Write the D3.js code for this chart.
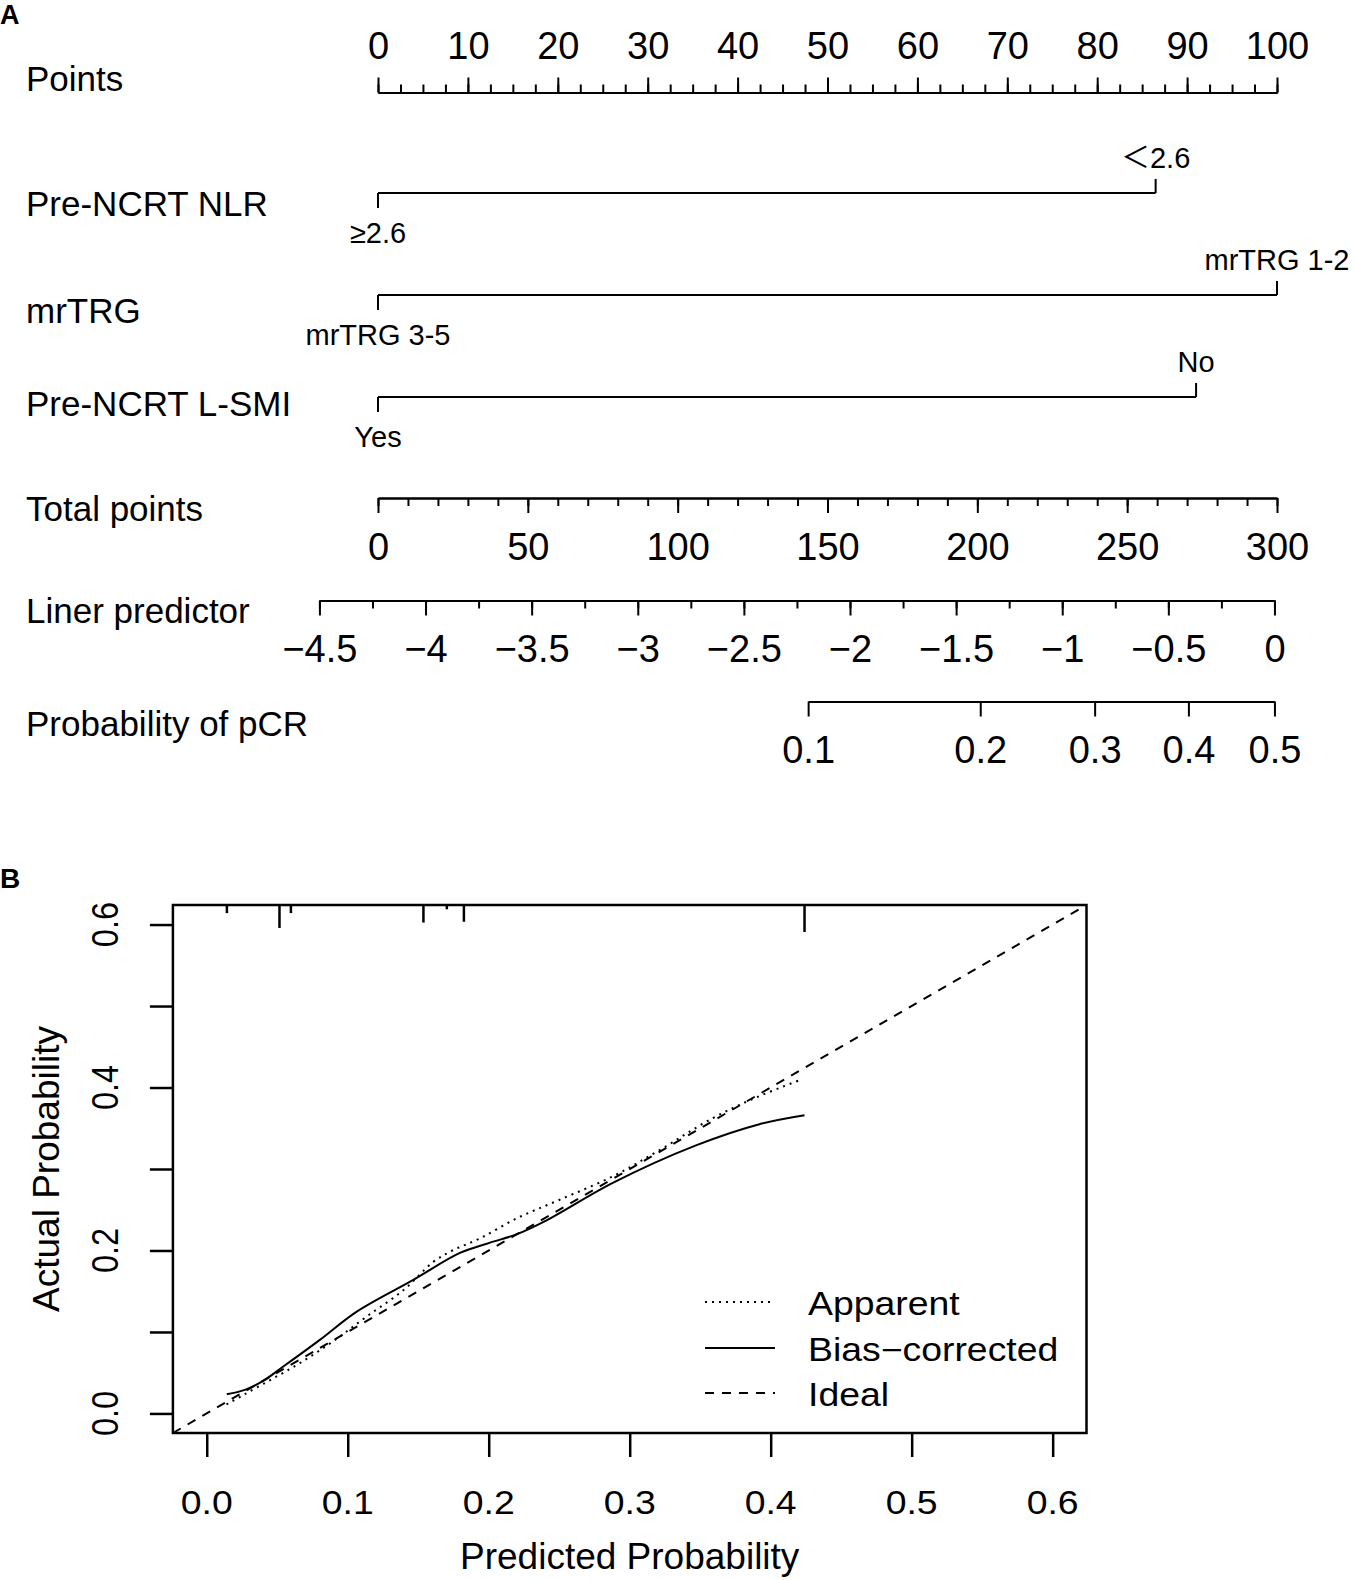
<!DOCTYPE html>
<html>
<head>
<meta charset="utf-8">
<title>Nomogram and calibration curve for pCR</title>
<script src="https://d3js.org/d3.v7.min.js"></script>
<style>
  body { margin: 0; background: #fff; }
  svg { display: block; font-family: "Liberation Sans", Arial, "Noto Sans CJK SC", sans-serif; }
</style>
</head>
<body>
<svg id="fig" width="1354" height="1580"></svg>
<script>
// ---------------- data : nomogram (A) ----------------
let pointTicks = [0, 10, 20, 30, 40, 50, 60, 70, 80, 90, 100];
let varNames = ["Pre-NCRT NLR", "mrTRG", "Pre-NCRT L-SMI"];
let levelLabels = [["≥2.6", "＜2.6"], ["mrTRG 3-5", "mrTRG 1-2"], ["Yes", "No"]];
let levelPoints = [[0, 86.5], [0, 100], [0, 91]];
let totalTicks = [0, 50, 100, 150, 200, 250, 300];
let lpTicks = [-4.5, -4, -3.5, -3, -2.5, -2, -1.5, -1, -0.5, 0];
let probTicks = [0.1, 0.2, 0.3, 0.4, 0.5];
// linear predictor = lpAtZero + lpPerPoint * total points
let lpAtZero = -4.224, lpPerPoint = 0.01412;

// ---------------- data : calibration (B) ----------------
let calTicks = [0, 0.1, 0.2, 0.3, 0.4, 0.5, 0.6];
let calLabels = ["0.0", "0.1", "0.2", "0.3", "0.4", "0.5", "0.6"];
let apparentPred = [0.014, 0.026, 0.045, 0.066, 0.09, 0.1135, 0.14, 0.1607, 0.175, 0.194, 0.22, 0.25, 0.288, 0.32, 0.359, 0.39, 0.422];
let apparentObs  = [0.011, 0.0227, 0.041, 0.0617, 0.089, 0.119, 0.152, 0.186, 0.2006, 0.215, 0.2396, 0.262, 0.291, 0.322, 0.3625, 0.388, 0.410];
let biasPred = [0.0142, 0.027, 0.04, 0.0543, 0.08, 0.1064, 0.1465, 0.1796, 0.2, 0.22, 0.241, 0.288, 0.347, 0.392, 0.424];
let biasObs  = [0.0235, 0.029, 0.040, 0.0576, 0.090, 0.125, 0.164, 0.197, 0.209, 0.22, 0.237, 0.283, 0.329, 0.355, 0.366];
let rugPred = [0.0143, 0.0516, 0.0597, 0.1537, 0.1703, 0.1824, 0.424];
let rugFreq = [3, 8.5, 3, 6.5, 1.6, 6.2, 10];
let legendNames = ["Apparent", "Bias\u2212corrected", "Ideal"];

const svg = d3.select("#fig");

// small helper: text with optional horizontal stretch and rotation
function addText(parent, x, y, txt, size, anchor, sx, rot) {
  return parent.append("text")
    .attr("transform", "translate(" + x + "," + y + ") scale(" + (sx || 1) + ",1)" + (rot ? " rotate(" + rot + ")" : ""))
    .attr("font-size", size)
    .attr("text-anchor", anchor || "start")
    .attr("fill", "#000")
    .text(txt);
}

//------------------ panel A : nomogram ------------------
let A = svg.append("g");
addText(A, 0, 24, "A", 27, "start").attr("font-weight", "bold");

let ptsX = d3.scaleLinear().domain([0, 100]).range([378, 1277]);
let totX = d3.scaleLinear().domain([0, 300]).range([378, 1277]);
let lpToTotal = function(lp) { return (lp - lpAtZero) / lpPerPoint; };
let lpX = d3.scaleLinear().domain([-4.5, 0])
    .range([totX(lpToTotal(-4.5)), totX(lpToTotal(0))]);
let logit = function(p) { return Math.log(p / (1 - p)); };
let probX = d3.scaleLinear().domain([logit(0.1), logit(0.5)])
    .range([lpX(logit(0.1)), lpX(logit(0.5))]);

// row titles
let rowNames = ["Points"].concat(varNames, ["Total points", "Liner predictor", "Probability of pCR"]);
let rowBase = [91, 216, 323, 416, 521, 623, 736];
rowNames.forEach(function(n, i) { addText(A, 26, rowBase[i], n, 35, "start"); });

function drawAxis(axisFn, scale, y, major, minor, fmt, minorLen) {
  let g = A.append("g").attr("transform", "translate(0," + y + ")");
  if (minor) {
    g.append("g").call(axisFn(scale).tickValues(minor).tickSize(minorLen).tickSizeOuter(0).tickFormat(""));
  }
  g.append("g").call(axisFn(scale).tickValues(major).tickSize(15).tickSizeOuter(0)
      .tickPadding(axisFn === d3.axisTop ? 19 : 20).tickFormat(fmt));
  g.selectAll("g").attr("font-family", null).attr("font-size", null);
  g.selectAll("path, line").attr("stroke", "#000").attr("stroke-width", 2);
  g.selectAll("text").attr("font-size", 38).attr("fill", "#000");
  return g;
}

drawAxis(d3.axisTop, ptsX, 92.5, pointTicks, d3.range(0, 100.01, 2.5), d3.format("d"), 8);
drawAxis(d3.axisBottom, totX, 498, totalTicks, d3.range(0, 300.01, 10), d3.format("d"), 8);
drawAxis(d3.axisBottom, lpX, 600.5, lpTicks, d3.range(-4.5, 0.01, 0.25), d3.format("~g"), 8);
drawAxis(d3.axisBottom, probX, 701.5, probTicks.map(logit), null,
    function(d) { return d3.format(".1f")(1 / (1 + Math.exp(-d))); });

// variable rows
let varY = [193, 295, 397];
varNames.forEach(function(v, i) {
  let y = varY[i], pts = levelPoints[i];
  A.append("line")
    .attr("x1", ptsX(d3.min(pts))).attr("x2", ptsX(d3.max(pts)))
    .attr("y1", y).attr("y2", y)
    .attr("stroke", "#000").attr("stroke-width", 2);
  pts.forEach(function(p, j) {
    let up = j % 2 === 1;
    A.append("line")
      .attr("x1", ptsX(p)).attr("x2", ptsX(p))
      .attr("y1", y).attr("y2", up ? y - 14 : y + 15)
      .attr("stroke", "#000").attr("stroke-width", 2);
    addText(A, ptsX(p), up ? y - 25 : y + 50, levelLabels[i][j], 29, "middle");
  });
});

//------------------ panel B : calibration ------------------
let B = svg.append("g");
addText(B, 0, 888, "B", 28, "start").attr("font-weight", "bold");

let xB = d3.scaleLinear().domain([-0.024, 0.624]).range([172.9, 1086.5]);
let yB = d3.scaleLinear().domain([-0.024, 0.624]).range([1433, 905]);
let sx = 1.15;

B.append("rect")
  .attr("x", xB.range()[0]).attr("y", yB.range()[1])
  .attr("width", xB.range()[1] - xB.range()[0])
  .attr("height", yB.range()[0] - yB.range()[1])
  .attr("fill", "none").attr("stroke", "#000").attr("stroke-width", 2.5);

let gx = B.append("g").attr("transform", "translate(0," + yB.range()[0] + ")")
  .call(d3.axisBottom(xB).tickValues(calTicks).tickSize(24).tickFormat(""));
let gy = B.append("g").attr("transform", "translate(" + xB.range()[0] + ",0)")
  .call(d3.axisLeft(yB).tickValues(calTicks).tickSize(23).tickFormat(""));
[gx, gy].forEach(function(g) {
  g.select(".domain").remove();
  g.selectAll("line").attr("stroke", "#000").attr("stroke-width", 2.5);
});

calTicks.forEach(function(t, i) {
  addText(B, xB(t), 1514, calLabels[i], 32.5, "middle", sx);
  if (i % 2 === 0) addText(B, 118, yB(t), calLabels[i], 32.5, "middle", sx, -90);
});

addText(B, (xB.range()[0] + xB.range()[1]) / 2, 1569, "Predicted Probability", 37, "middle");
addText(B, 59, (yB.range()[0] + yB.range()[1]) / 2, "Actual Probability", 37, "middle", 1, -90);

// rug of predicted probabilities along the top
let rugLen = d3.scaleLinear().domain([0, 10]).range([0, 27]);
B.selectAll("line.rug").data(rugPred).enter().append("line")
  .attr("class", "rug")
  .attr("x1", function(d) { return xB(d); }).attr("x2", function(d) { return xB(d); })
  .attr("y1", yB.range()[1])
  .attr("y2", function(d, i) { return yB.range()[1] + rugLen(rugFreq[i]); })
  .attr("stroke", "#000").attr("stroke-width", 2.5);

let line = d3.line()
  .x(function(d) { return xB(d[0]); })
  .y(function(d) { return yB(d[1]); })
  .curve(d3.curveCatmullRom);

let ideal = xB.domain().map(function(v) { return [v, v]; });
let apparent = apparentPred.map(function(p, i) { return [p, apparentObs[i]]; });
let bias = biasPred.map(function(p, i) { return [p, biasObs[i]]; });
let styles = [{ dash: "2,5" }, { dash: null }, { dash: "9,8" }];

[apparent, bias, ideal].forEach(function(d, i) {
  B.append("path").datum(d)
    .attr("d", line)
    .attr("fill", "none").attr("stroke", "#000").attr("stroke-width", 2)
    .attr("stroke-dasharray", styles[i].dash);
});

// legend
let legY = [1302, 1348, 1393];
legendNames.forEach(function(n, i) {
  B.append("line")
    .attr("x1", 705).attr("x2", 775).attr("y1", legY[i]).attr("y2", legY[i])
    .attr("stroke", "#000").attr("stroke-width", 2)
    .attr("stroke-dasharray", styles[i].dash);
  addText(B, 808, legY[i] + 12.5, n, 32.5, "start", sx);
});
</script>
</body>
</html>
